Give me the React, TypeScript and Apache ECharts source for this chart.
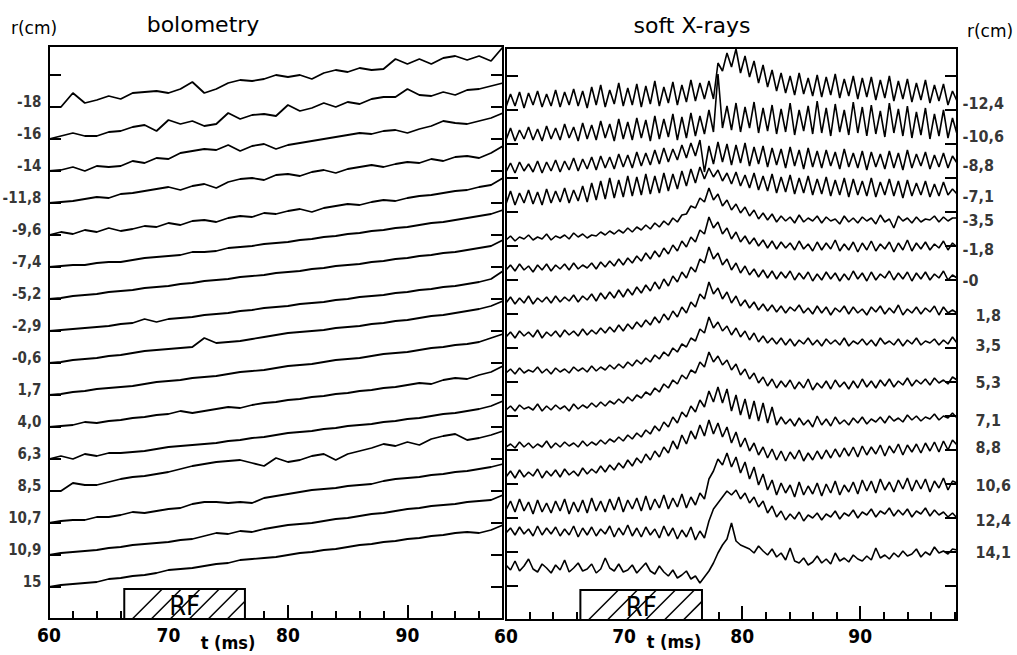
import React, { useEffect, useRef } from "react";
import * as echarts from "echarts";

// ---------- axes ----------
const T_MIN = 60;
const BOLO_T_MAX = 98;
const SXR_T_MAX = 98.2;
const X_LABEL_TICKS = [60, 70, 80, 90];

// ---------- bolometry (sampled every 1 ms from 60 ms), a.u. above channel baseline ----------
const BOLO_T0 = 60;
const BOLO_DT = 1;
const BOLO_LABELS = ["-18", "-16", "-14", "-11,8", "-9,6", "-7,4", "-5,2", "-2,9", "-0,6", "1,7", "4,0", "6,3", "8,5", "10,7", "10,9", "15"];
const BOLO_OFFSETS = [512, 480, 448, 416, 384, 352, 320, 288, 256, 224, 192, 160, 128, 96, 64, 32];
const BOLO_1 = [0, 0, 14, 4, 7, 11, 8, 14, 15, 16, 14, 18, 25, 14, 18, 24, 27, 26, 28, 32, 30, 32, 28, 34, 37, 35, 39, 37, 38, 48, 43, 48, 43, 49, 51, 47, 51, 46, 60];
const BOLO_2 = [0, 3, 6, 3, 3, 7, 8, 12, 14, 8, 19, 15, 18, 13, 15, 26, 20, 24, 25, 23, 34, 28, 31, 36, 32, 37, 35, 40, 42, 42, 50, 44, 43, 47, 44, 49, 50, 53, 56];
const BOLO_3 = [0, 1, 4, 0, 5, 4, 5, 10, 8, 13, 12, 18, 20, 22, 21, 26, 20, 25, 27, 22, 26, 28, 30, 32, 34, 36, 38, 37, 40, 41, 38, 42, 45, 50, 48, 47, 50, 53, 58];
const BOLO_4 = [0, 1, 2, 4, 6, 5, 9, 10, 12, 14, 16, 13, 17, 19, 15, 21, 24, 25, 23, 28, 29, 27, 31, 33, 30, 34, 36, 38, 36, 39, 41, 40, 44, 42, 46, 47, 45, 50, 57];
const BOLO_5 = [0, 3, 1, 5, 3, 7, 4, 6, 9, 8, 12, 10, 14, 15, 13, 17, 19, 18, 22, 21, 24, 26, 23, 27, 29, 31, 30, 33, 35, 34, 37, 39, 40, 42, 44, 45, 48, 50, 57];
const BOLO_6 = [0, 1, 2, 2, 4, 5, 5, 7, 9, 10, 11, 12, 15, 15, 16, 19, 20, 21, 23, 24, 25, 27, 28, 30, 31, 33, 34, 36, 37, 39, 40, 42, 44, 45, 47, 49, 51, 53, 57];
const BOLO_7 = [0, 1, 3, 4, 5, 7, 8, 9, 11, 12, 13, 15, 16, 18, 19, 20, 22, 23, 24, 26, 27, 28, 30, 31, 33, 34, 35, 37, 38, 40, 41, 43, 44, 46, 47, 49, 51, 53, 59];
const BOLO_8 = [0, 1, 2, 3, 4, 5, 7, 8, 12, 9, 12, 13, 14, 16, 17, 18, 20, 21, 23, 24, 25, 27, 28, 29, 31, 32, 34, 35, 36, 38, 39, 41, 42, 44, 45, 47, 49, 52, 60];
const BOLO_9 = [0, 1, 3, 4, 5, 7, 8, 10, 12, 13, 14, 15, 16, 25, 20, 21, 22, 24, 26, 28, 30, 31, 32, 33, 35, 36, 37, 39, 40, 42, 43, 45, 47, 48, 50, 52, 54, 57, 62];
const BOLO_10 = [0, 1, 3, 4, 6, 7, 8, 9, 11, 13, 14, 15, 17, 18, 19, 21, 23, 24, 25, 27, 29, 30, 31, 33, 35, 36, 37, 39, 41, 42, 43, 45, 47, 48, 50, 51, 53, 57, 61];
const BOLO_11 = [0, 1, 2, 5, 4, 6, 7, 9, 10, 12, 13, 16, 14, 16, 18, 20, 19, 22, 24, 25, 27, 28, 30, 31, 33, 34, 36, 37, 39, 40, 42, 44, 43, 47, 49, 48, 52, 55, 61];
const BOLO_12 = [0, 3, 0, 5, 3, 6, 6, 7, 8, 10, 12, 13, 14, 15, 16, 18, 19, 21, 22, 24, 26, 27, 28, 30, 31, 33, 34, 35, 37, 38, 40, 41, 43, 45, 46, 48, 50, 53, 58];
const BOLO_13 = [0, 0, 8, 6, 6, 9, 12, 14, 15, 17, 19, 22, 25, 27, 29, 30, 31, 28, 25, 33, 29, 31, 35, 37, 31, 37, 40, 43, 47, 45, 49, 46, 52, 55, 57, 51, 53, 56, 60];
const BOLO_14 = [0, 2, 3, 3, 6, 6, 8, 11, 10, 12, 14, 15, 19, 21, 21, 20, 21, 20, 25, 27, 29, 31, 33, 34, 35, 37, 38, 39, 42, 44, 45, 46, 48, 49, 51, 52, 54, 56, 59];
const BOLO_15 = [0, 2, 3, 4, 5, 7, 8, 10, 11, 12, 13, 15, 16, 19, 22, 21, 24, 23, 26, 28, 30, 31, 32, 34, 36, 37, 39, 41, 42, 44, 46, 47, 49, 50, 51, 53, 54, 55, 60];
const BOLO_16 = [0, 2, 3, 4, 5, 8, 9, 11, 12, 14, 17, 18, 19, 21, 23, 24, 27, 28, 29, 30, 32, 34, 35, 37, 38, 40, 42, 43, 45, 46, 48, 49, 51, 52, 54, 55, 54, 57, 62];
const BOLO_TRACES = [BOLO_1, BOLO_2, BOLO_3, BOLO_4, BOLO_5, BOLO_6, BOLO_7, BOLO_8, BOLO_9, BOLO_10, BOLO_11, BOLO_12, BOLO_13, BOLO_14, BOLO_15, BOLO_16];

// ---------- soft X-rays (sampled every 0.382 ms from 60 ms), a.u. above channel baseline ----------
const SXR_T0 = 60;
const SXR_DT = 0.382;
const SXR_LABELS = ["-12,4", "-10,6", "-8,8", "-7,1", "-3,5", "-1,8", "-0", "1,8", "3,5", "5,3", "7,1", "8,8", "10,6", "12,4", "14,1"];
const SXR_OFFSETS = [517, 484, 450, 417, 380, 350, 317, 283, 247, 210, 173, 143, 113, 87, 53];
const SXR_1 = [
  -4, 9, -3, 11, -5, 10, -2, 12, -4, 9,
  -3, 13, -4, 11, -2, 14, -3, 12, -5, 16,
  -2, 18, -4, 13, -1, 20, -3, 15, -2, 19,
  -4, 17, -1, 22, -3, 16, 0, 21, -2, 18,
  1, 23, 2, 20, 4, 22, 4, 40, 32, 50,
  36, 54, 30, 47, 26, 42, 20, 38, 16, 33,
  12, 30, 10, 27, 8, 30, 9, 25, 7, 28,
  6, 26, 8, 29, 5, 24, 7, 27, 4, 25,
  6, 26, 3, 23, 5, 27, 2, 22, 4, 24,
  1, 20, 3, 23, 0, 18, 2, 19, -2, 12, 2];
const SXR_2 = [
  -4, 8, -5, 6, -3, 9, -4, 7, -5, 10,
  -3, 8, -4, 12, -2, 9, -5, 13, -3, 11,
  -4, 15, -2, 12, -5, 17, -3, 14, -4, 18,
  -2, 16, -5, 20, -3, 17, -1, 22, -4, 19,
  -2, 23, 0, 20, 2, 26, 4, 62, 8, 30,
  6, 33, 4, 29, 8, 34, 3, 28, 5, 31,
  2, 27, 4, 33, 1, 26, 5, 30, 2, 35,
  3, 28, 0, 32, 4, 26, 1, 34, 3, 29,
  0, 31, 2, 25, -1, 33, 3, 27, 0, 30,
  -2, 24, 1, 28, -3, 22, 0, 26, -2, 18, 2];
const SXR_3 = [
  -2, 7, -3, 8, -1, 6, -2, 9, -3, 8,
  -1, 10, -2, 9, 0, 12, -1, 11, 1, 13,
  0, 14, 2, 13, 1, 16, 3, 15, 2, 18,
  4, 17, 5, 20, 6, 22, 8, 21, 10, 25,
  12, 27, 14, 30, -2, 24, 6, 28, 8, 26,
  5, 25, 7, 27, 4, 23, 6, 24, 3, 22,
  5, 21, 2, 23, 4, 20, 1, 22, 3, 19,
  2, 20, 4, 18, 1, 21, 3, 17, 2, 19,
  0, 18, 3, 16, 1, 19, 2, 17, 0, 20,
  2, 16, 4, 18, 1, 15, 3, 17, 2, 14, 7];
const SXR_4 = [
  -1, 12, -2, 10, 0, 13, -1, 11, -2, 14,
  0, 12, 1, 15, 0, 13, 2, 17, 1, 20,
  3, 22, 4, 25, 5, 23, 6, 27, 7, 26,
  8, 29, 9, 27, 10, 30, 12, 29, 14, 32,
  17, 34, 20, 36, 24, 35, 26, 33, 22, 30,
  19, 31, 17, 28, 15, 30, 13, 27, 12, 29,
  10, 26, 11, 28, 9, 25, 10, 27, 8, 24,
  9, 26, 7, 23, 8, 25, 6, 24, 8, 22,
  7, 25, 6, 21, 8, 24, 7, 22, 5, 23,
  7, 20, 8, 22, 6, 19, 7, 21, 8, 14, 9];
const SXR_5 = [
  0, 4, -1, 3, 1, 5, 0, 3, 1, 6,
  0, 4, 2, 5, 1, 7, 3, 6, 2, 5,
  4, 8, 5, 9, 6, 10, 7, 12, 8, 13,
  10, 15, 11, 17, 13, 19, 15, 22, 18, 25,
  26, 34, 32, 42, 38, 52, 40, 46, 34, 40,
  30, 36, 27, 33, 24, 30, 21, 27, 20, 26,
  18, 24, 19, 23, 17, 25, 18, 22, 19, 24,
  17, 23, 19, 21, 16, 24, 18, 22, 17, 23,
  19, 22, 16, 25, 18, 21, 12, 24, 19, 22,
  17, 23, 18, 21, 20, 24, 18, 23, 19, 22, 22];
const SXR_6 = [
  0, 5, -1, 6, 0, 4, -2, 5, 0, 6,
  -1, 5, 1, 6, 0, 7, 1, 5, 2, 7,
  1, 8, 3, 9, 4, 11, 5, 12, 7, 14,
  9, 17, 11, 19, 13, 22, 16, 25, 19, 29,
  23, 33, 28, 40, 36, 53, 42, 48, 36, 42,
  31, 38, 28, 34, 26, 32, 24, 30, 22, 29,
  21, 28, 22, 27, 20, 29, 21, 26, 19, 28,
  20, 27, 21, 30, 19, 26, 20, 28, 18, 27,
  20, 29, 19, 26, 21, 28, 18, 27, 20, 30,
  19, 27, 21, 28, 20, 26, 22, 29, 20, 27, 23];
const SXR_7 = [
  0, 6, -1, 5, 0, 7, -1, 5, 1, 6,
  0, 7, 1, 6, 2, 8, 1, 7, 3, 9,
  2, 10, 4, 11, 5, 13, 6, 14, 8, 16,
  10, 18, 12, 21, 14, 24, 17, 27, 21, 31,
  25, 36, 31, 44, 40, 56, 44, 50, 38, 44,
  33, 40, 30, 37, 28, 34, 26, 33, 25, 32,
  24, 31, 25, 32, 23, 30, 24, 31, 22, 29,
  23, 31, 24, 30, 22, 29, 23, 32, 24, 30,
  22, 31, 23, 29, 25, 32, 23, 30, 24, 31,
  22, 30, 24, 31, 23, 29, 25, 32, 23, 28, 25];
const SXR_8 = [
  0, 5, -1, 6, 1, 5, 0, 7, -1, 5,
  1, 6, 0, 7, 2, 6, 1, 8, 2, 7,
  3, 9, 4, 10, 5, 12, 6, 13, 8, 15,
  10, 17, 12, 20, 14, 23, 17, 26, 20, 30,
  24, 35, 30, 43, 38, 55, 43, 49, 38, 45,
  34, 41, 31, 37, 29, 35, 27, 33, 26, 32,
  25, 31, 24, 30, 26, 32, 24, 29, 23, 31,
  24, 30, 22, 29, 25, 31, 23, 30, 24, 28,
  22, 30, 25, 31, 23, 29, 24, 32, 22, 28,
  24, 30, 23, 29, 25, 31, 22, 30, 24, 27, 24];
const SXR_9 = [
  0, 4, -1, 5, 0, 3, 1, 6, 0, 4,
  -1, 5, 1, 4, 0, 6, 2, 5, 1, 7,
  2, 6, 3, 8, 4, 9, 5, 11, 7, 13,
  9, 15, 11, 18, 14, 21, 17, 25, 21, 29,
  26, 35, 32, 44, 40, 56, 45, 51, 42, 47,
  38, 45, 36, 42, 33, 40, 31, 37, 30, 35,
  29, 35, 28, 34, 27, 33, 29, 35, 28, 33,
  27, 34, 29, 33, 28, 35, 27, 32, 29, 34,
  28, 33, 27, 35, 29, 32, 28, 34, 27, 33,
  29, 35, 28, 32, 30, 34, 28, 33, 29, 36, 30];
const SXR_10 = [
  0, 4, -1, 5, 1, 3, 0, 6, -1, 4,
  0, 5, 1, 4, -1, 6, 1, 5, 2, 7,
  3, 8, 4, 9, 6, 11, 7, 13, 9, 15,
  12, 18, 15, 22, 18, 26, 22, 30, 26, 35,
  31, 40, 37, 48, 43, 58, 48, 54, 45, 50,
  40, 46, 35, 41, 31, 37, 27, 33, 24, 31,
  22, 29, 23, 30, 21, 28, 22, 31, 20, 27,
  22, 29, 21, 30, 23, 28, 21, 29, 22, 31,
  23, 29, 22, 30, 24, 31, 23, 29, 25, 32,
  24, 30, 26, 31, 25, 32, 27, 30, 26, 33, 30];
const SXR_11 = [
  0, 3, -1, 5, 0, 4, -1, 3, 0, 6,
  -1, 4, 0, 5, 1, 4, 0, 6, 1, 5,
  2, 7, 3, 8, 5, 10, 6, 12, 8, 14,
  10, 17, 13, 21, 16, 25, 20, 30, 24, 35,
  30, 41, 35, 47, 40, 56, 45, 60, 44, 58,
  36, 52, 32, 48, 28, 46, 26, 44, 24, 40,
  22, 30, 23, 28, 21, 29, 22, 27, 20, 31,
  22, 28, 21, 30, 23, 27, 22, 29, 24, 30,
  23, 28, 25, 30, 24, 31, 26, 29, 25, 32,
  27, 31, 26, 30, 28, 33, 27, 31, 29, 34, 29];
const SXR_12 = [
  0, 6, -1, 7, 0, 5, 1, 8, -1, 6,
  1, 7, 0, 8, 2, 6, 1, 9, 3, 8,
  4, 11, 5, 12, 7, 14, 9, 17, 11, 19,
  14, 23, 17, 26, 20, 30, 24, 36, 28, 42,
  33, 46, 38, 52, 41, 57, 43, 54, 40, 50,
  34, 45, 30, 39, 26, 34, 22, 30, 19, 28,
  17, 26, 16, 25, 18, 27, 16, 24, 17, 26,
  18, 27, 19, 28, 20, 29, 21, 30, 20, 31,
  22, 30, 23, 32, 21, 31, 24, 33, 22, 32,
  25, 33, 24, 34, 26, 35, 25, 36, 27, 37, 32];
const SXR_13 = [
  -3, 6, -5, 8, -4, 5, -7, 7, -5, 4,
  -6, 6, -4, 8, -7, 5, -5, 7, -6, 9,
  -4, 6, -5, 8, -3, 10, -5, 7, -2, 9,
  -4, 11, -3, 8, -1, 12, -2, 9, 0, 13,
  -1, 10, 2, 14, 8, 28, 36, 48, 42, 54,
  40, 50, 34, 45, 28, 40, 22, 33, 17, 27,
  12, 24, 14, 22, 10, 25, 12, 21, 13, 24,
  11, 23, 14, 26, 12, 22, 15, 25, 13, 27,
  16, 26, 14, 28, 17, 25, 15, 27, 18, 29,
  16, 27, 18, 28, 15, 26, 19, 29, 17, 26, 24];
const SXR_14 = [
  0, 5, -2, 6, -1, 4, -3, 7, -2, 5,
  -1, 6, -3, 4, -2, 7, -4, 5, -2, 6,
  -3, 4, -1, 7, -4, 5, -2, 8, -3, 5,
  -4, 6, -2, 4, -5, 7, -3, 5, -6, 3,
  -4, 6, -7, 2, -5, 12, 24, 30, 36, 42,
  38, 43, 34, 40, 30, 36, 26, 32, 20, 27,
  16, 22, 13, 19, 14, 21, 12, 18, 15, 20,
  13, 19, 16, 22, 14, 20, 17, 23, 15, 21,
  18, 24, 16, 22, 19, 25, 17, 23, 18, 24,
  16, 22, 19, 25, 17, 23, 18, 21, 16, 20, 15];
const SXR_15 = [
  2, -3, 6, -4, 1, 8, -2, -5, 3, -1,
  -6, 2, -3, 7, -5, -1, 4, -4, -2, 3,
  -6, -2, 9, -1, -4, 3, -5, -3, 2, -6,
  -1, 4, -4, -7, 1, -5, -9, -3, -11, -8,
  -4, -12, -9, -16, -10, -4, 4, 14, 22, 28,
  44, 26, 22, 20, 18, 14, 21, 16, 12, 18,
  10, 14, 7, 19, 6, 4, 9, 2, 5, 11,
  4, 8, 3, 14, 6, 9, 5, 12, 8, 6,
  11, 7, 19, 9, 12, 8, 14, 10, 16, 11,
  13, 18, 10, 15, 12, 20, 14, 16, 13, 18, 17];
const SXR_TRACES = [SXR_1, SXR_2, SXR_3, SXR_4, SXR_5, SXR_6, SXR_7, SXR_8, SXR_9, SXR_10, SXR_11, SXR_12, SXR_13, SXR_14, SXR_15];

// ---------- RF pulse ----------
const BOLO_RF = [66.3, 76.4];
const SXR_RF = [66.3, 76.6];
const RF_LEVEL = 30;

const COND = "'DejaVu Sans Condensed', 'Liberation Sans Narrow', 'DejaVu Sans', sans-serif";
const PLAIN = "'DejaVu Sans', sans-serif";

function rfSeries(xi: number, yi: number, rf: number[]) {
  return {
    type: "custom",
    xAxisIndex: xi,
    yAxisIndex: yi,
    silent: true,
    z: 6,
    data: [[rf[0], rf[1], RF_LEVEL]],
    renderItem: (_p: any, api: any) => {
      const a = api.coord([api.value(0), 0]);
      const b = api.coord([api.value(1), api.value(2)]);
      const x0 = a[0], x1 = b[0], yB = a[1], yT = b[1];
      const children: any[] = [
        { type: "rect", shape: { x: x0, y: yT, width: x1 - x0, height: yB - yT }, style: { fill: "#fff", stroke: "#000", lineWidth: 2 } },
      ];
      const step = 19;
      for (let c = x0 + yB + 8; c < x1 + yB; c += step) {
        let sx = c - yB, sy = yB;
        if (sx < x0) { sx = x0; sy = c - x0; }
        let ex = c - yT, ey = yT;
        if (ex > x1) { ex = x1; ey = c - x1; }
        children.push({ type: "line", shape: { x1: sx, y1: sy, x2: ex, y2: ey }, style: { stroke: "#000", lineWidth: 1.5 } });
      }
      children.push({
        type: "text",
        style: { text: "RF", x: (x0 + x1) / 2, y: (yT + yB) / 2 + 1, align: "center", verticalAlign: "middle", fontSize: 27, fontFamily: COND, fill: "#000" },
      });
      return { type: "group", children };
    },
  };
}

function xAxes(grid: number, max: number) {
  return [
    {
      gridIndex: grid, type: "value", min: T_MIN, max, interval: 10, position: "bottom",
      axisLine: { show: false }, splitLine: { show: false },
      axisTick: { show: true, inside: true, length: 14, lineStyle: { color: "#000", width: 2 } },
      axisLabel: {
        show: true, margin: 6, color: "#000", fontSize: 19, fontWeight: "bold", fontFamily: COND,
        formatter: (v: number) => (X_LABEL_TICKS.indexOf(v) >= 0 ? String(v) : ""),
      },
    },
    {
      gridIndex: grid, type: "value", min: T_MIN, max, interval: 2, position: "bottom",
      axisLine: { show: false }, splitLine: { show: false }, axisLabel: { show: false },
      axisTick: { show: true, inside: true, length: 8, lineStyle: { color: "#000", width: 2 } },
    },
  ];
}

function yAxes(grid: number, max: number, interval: number) {
  return ["left", "right"].map((pos) => ({
    gridIndex: grid, type: "value", min: 0, max, interval, position: pos,
    axisLine: { show: false }, splitLine: { show: false }, axisLabel: { show: false },
    axisTick: { show: true, inside: true, length: 12, lineStyle: { color: "#000", width: 2 } },
  }));
}

function buildOption() {
  const series: any[] = [];
  BOLO_TRACES.forEach((vals, k) => {
    series.push({
      type: "line", xAxisIndex: 0, yAxisIndex: 0, silent: true, symbol: "none", z: 3,
      data: vals.map((v, i) => [BOLO_T0 + i * BOLO_DT, BOLO_OFFSETS[k] + v]),
      lineStyle: { color: "#000", width: 1.8 },
    });
  });
  SXR_TRACES.forEach((vals, k) => {
    series.push({
      type: "line", xAxisIndex: 2, yAxisIndex: 2, silent: true, symbol: "none", z: 3,
      data: vals.map((v, i) => [SXR_T0 + i * SXR_DT, SXR_OFFSETS[k] + v]),
      lineStyle: { color: "#000", width: 1.6 },
    });
  });
  const labelStyle = { show: true, color: "#000", fontSize: 15, fontWeight: "bold", fontFamily: COND, formatter: "{b}" };
  series.push({
    type: "scatter", xAxisIndex: 0, yAxisIndex: 0, silent: true, symbolSize: 1, z: 4,
    itemStyle: { color: "rgba(0,0,0,0)" },
    data: BOLO_LABELS.map((s, k) => ({ name: s, value: [T_MIN, BOLO_OFFSETS[k] + 5] })),
    label: { ...labelStyle, position: "left", distance: 7 },
  });
  series.push({
    type: "scatter", xAxisIndex: 2, yAxisIndex: 2, silent: true, symbolSize: 1, z: 4,
    itemStyle: { color: "rgba(0,0,0,0)" },
    data: SXR_LABELS.map((s, k) => {
      const tr = SXR_TRACES[k];
      return {
        name: s,
        value: [SXR_T_MAX, SXR_OFFSETS[k] + tr[tr.length - 1] - 2],
        label: { distance: s.charAt(0) === "-" ? 5 : 18 },
      };
    }),
    label: { ...labelStyle, fontSize: 16, position: "right" },
  });
  series.push(rfSeries(0, 0, BOLO_RF));
  series.push(rfSeries(2, 2, SXR_RF));

  const txt = (text: string, x: number, y: number, size: number, weight: any, family: string) => ({
    type: "text", x, y, silent: true,
    style: { text, align: "center", verticalAlign: "middle", fontSize: size, fontWeight: weight, fontFamily: family, fill: "#000" },
  });

  return {
    animation: false,
    backgroundColor: "#fff",
    grid: [
      { left: 49, top: 46, width: 454, height: 573, show: true, borderColor: "#000", borderWidth: 2, backgroundColor: "transparent" },
      { left: 506, top: 48, width: 451, height: 572, show: true, borderColor: "#000", borderWidth: 2, backgroundColor: "transparent" },
    ],
    xAxis: [...xAxes(0, BOLO_T_MAX), ...xAxes(1, SXR_T_MAX)],
    yAxis: [...yAxes(0, 573, 32), ...yAxes(1, 572, 34)],
    series,
    graphic: [
      txt("r(cm)", 34, 28, 17, "normal", PLAIN),
      txt("r(cm)", 990, 31, 17, "normal", PLAIN),
      txt("bolometry", 203, 24, 22, "normal", PLAIN),
      txt("soft X-rays", 692, 25, 22, "normal", PLAIN),
      txt("t (ms)", 228, 642, 18, "bold", COND),
      txt("t (ms)", 674, 641, 18, "bold", COND),
    ],
  };
}

export default function App() {
  const ref = useRef<HTMLDivElement>(null);
  useEffect(() => {
    document.body.style.margin = "0";
    const chart = echarts.init(ref.current as HTMLDivElement, null, { renderer: "svg" });
    chart.setOption(buildOption() as any);
    return () => chart.dispose();
  }, []);
  return <div ref={ref} style={{ width: 1017, height: 655 }} />;
}
